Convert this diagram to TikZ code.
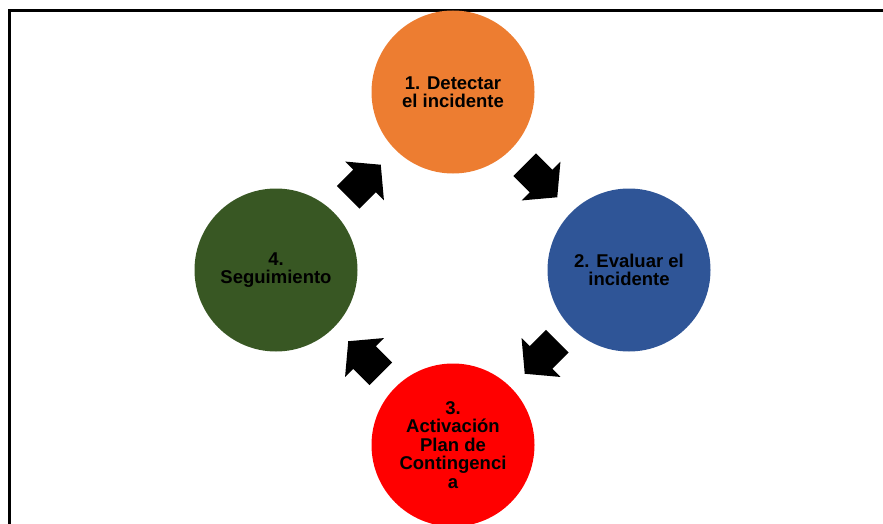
\documentclass[tikz,border=0pt]{standalone}
\usepackage{fontspec}
\setmainfont{Liberation Sans}
\usepackage{tikz}
\usetikzlibrary{calc}
\definecolor{naranja}{HTML}{ED7D31}
\definecolor{azul}{HTML}{2F5597}
\definecolor{rojo}{HTML}{FF0000}
\definecolor{verde}{HTML}{385723}
\newcommand*{\flecha}{(-23,-16) -- (0,-16) -- (0,-27.5) -- (23,0) -- (0,27.5) -- (0,16) -- (-23,16) -- cycle}

\begin{document}
\begin{tikzpicture}[x=1pt, y=1pt]
      \useasboundingbox (0,0) rectangle (883,-524);
      \draw [line width=2.2pt] (883,-10.5) -- (9.5,-10.5) -- (9.5,-524);

      {\tikzstyle{every node}=[circle, minimum size=163pt, inner sep=0pt, align=center,
          font=\bfseries\fontsize{18.5}{18.5}\selectfont]
        \node [fill=naranja] (p1) at (453,-92) {1. Detectar\\el incidente};
        \node [fill=azul] (p2) at (629,-270) {2. Evaluar el\\incidente};
        \node [fill=rojo] (p3) at (453,-445) {3.\\Activación\\Plan de\\Contingenci\\a};
        \node [fill=verde] (p4) at (276,-270) {4.\\Seguimiento};
      }

      \foreach \a/\b/\ang in {p1/p2/-45, p2/p3/-135, p3/p4/135, p4/p1/45}
      {
        \begin{scope}[shift={($(\a)!0.5!(\b)$)}, rotate=\ang]
          \fill \flecha;
        \end{scope}
      }
    \end{tikzpicture}
\end{document}
